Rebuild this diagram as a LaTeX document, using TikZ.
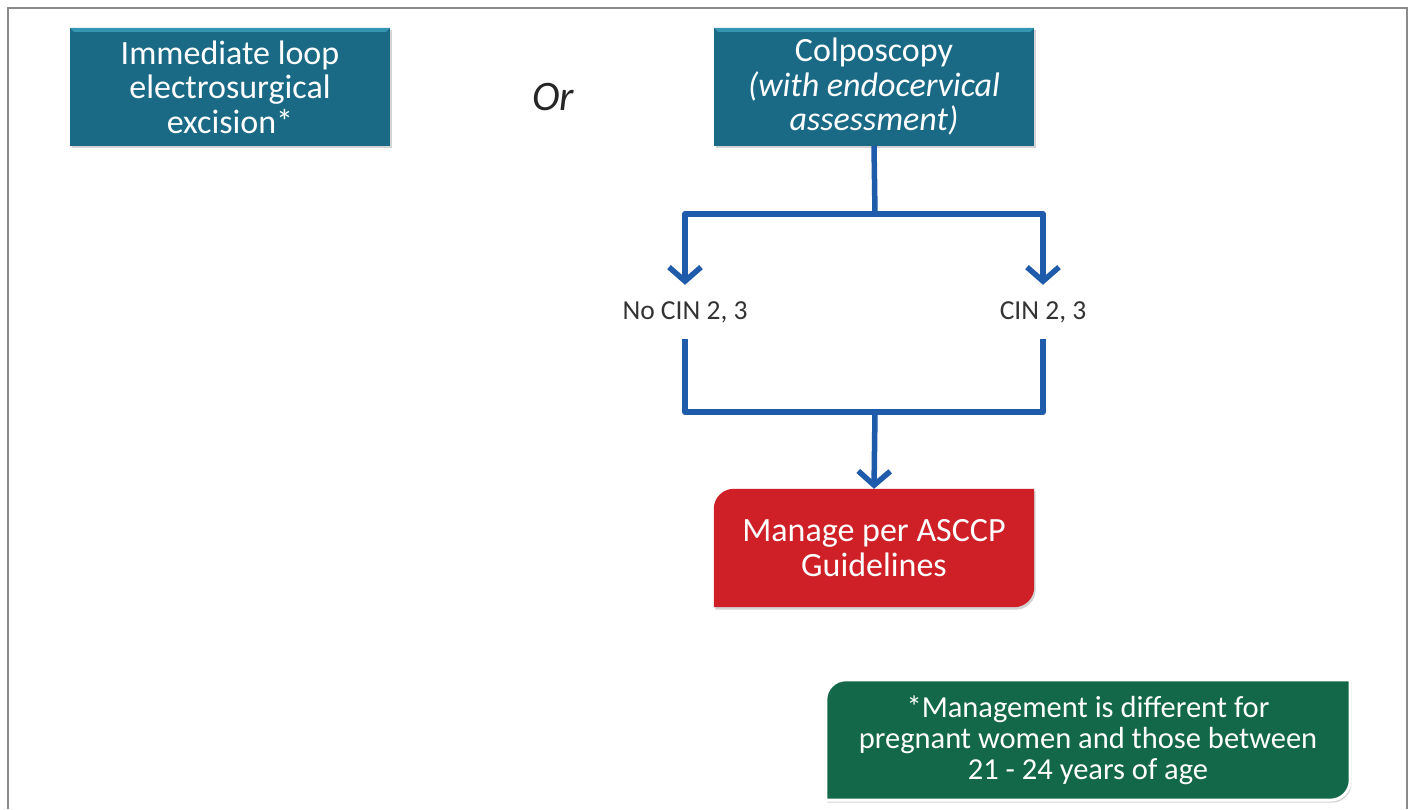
\documentclass[tikz,border=0pt]{standalone}
\usepackage{fontspec}
\setmainfont{Carlito}
\usetikzlibrary{arrows.meta,shadows,backgrounds}
\definecolor{tealbox}{HTML}{1A6A86}
\definecolor{tealedge}{HTML}{3596B2}
\definecolor{redbox}{HTML}{CF2027}
\definecolor{greenbox}{HTML}{136849}
\definecolor{flowblue}{HTML}{1E5BAA}
\definecolor{framegray}{HTML}{8A8A8A}
\definecolor{labelgray}{HTML}{333333}
\tikzset{
  stepbox/.style={fill=tealbox, text=white, align=center, minimum width=320pt,
    minimum height=118pt, inner sep=0pt, font=\fontsize{34}{34.5}\selectfont,
    drop shadow={opacity=0.35, shadow xshift=1.5pt, shadow yshift=-2.5pt}},
  outbox/.style={text=white, align=center, inner sep=0pt,
    font=\fontsize{34}{35}\selectfont},
  branchlabel/.style={text=labelgray, inner sep=0pt, minimum height=54pt,
    font=\fontsize{27.5}{30}\selectfont},
  flow/.style={draw=flowblue, line width=5.5pt, line join=round},
  flowarrow/.style={flow, -{Straight Barb[length=14pt, width=32pt, line width=5.5pt]}},
}
\begin{document}
\begin{tikzpicture}[x=1pt, y=1pt]
  \useasboundingbox (0,0) rectangle (1412,809);
  % page frame (open at the bottom)
  \draw[framegray, line width=2pt] (8,0) -- (8,801) -- (1407,801) -- (1407,0);

  % top-level choices
  \node[stepbox] (leep) at (230,722) {Immediate loop\\electrosurgical\\excision*};
  \node[text=black!85, font=\fontsize{42}{44}\selectfont\itshape] (or) at (553,712) {Or};
  \node[stepbox] (colp) at (874,722) {Colposcopy\\\textit{(with endocervical}\\\textit{assessment)}};
  % bevel highlight along the top edge of the teal boxes
  \foreach \b in {leep,colp}{
    \fill[tealedge] (\b.north west) -- (\b.north east) -- ([xshift=-4pt,yshift=-4pt]\b.north east)
      -- ([xshift=4pt,yshift=-4pt]\b.north west) -- cycle;
  }

  % colposcopy outcomes
  \coordinate (split) at (875,595);
  \node[branchlabel] (nocin) at (685,497) {No CIN 2, 3};
  \node[branchlabel] (cin) at (1043,497) {CIN 2, 3};
  \coordinate (join) at (875,397);

  % management box (rounded on the diagonal corners)
  \node[outbox, minimum width=320pt, minimum height=118pt] (manage) at (874,261)
    {Manage per ASCCP\\Guidelines};
  % footnote box
  \node[outbox, minimum width=524pt, minimum height=120pt,
    font=\fontsize{30.5}{31}\selectfont] (note) at (1088,69)
    {*Management is different for\\pregnant women and those between\\21 - 24 years of age};

  \begin{scope}[on background layer]
    \fill[redbox, drop shadow={opacity=0.35, shadow xshift=1.5pt, shadow yshift=-2.5pt}]
      (manage.south west) -- ([yshift=-20pt]manage.north west)
      arc[start angle=180, end angle=90, radius=20pt]
      -- (manage.north east) -- ([yshift=20pt]manage.south east)
      arc[start angle=0, end angle=-90, radius=20pt] -- cycle;
    \filldraw[fill=greenbox, draw=white, line width=3pt,
      drop shadow={opacity=0.35, shadow xshift=1.5pt, shadow yshift=-2.5pt}]
      (note.south west) -- ([yshift=-20pt]note.north west)
      arc[start angle=180, end angle=90, radius=20pt]
      -- (note.north east) -- ([yshift=20pt]note.south east)
      arc[start angle=0, end angle=-90, radius=20pt] -- cycle;
  \end{scope}

  % connectors
  \draw[flow] (colp.south) -- (split);
  \draw[flowarrow] (split) -| (nocin.north);
  \draw[flowarrow] (split) -| (cin.north);
  \draw[flow] (nocin.south) |- (join) -| (cin.south);
  \draw[flowarrow] (join) -- (manage.north);
\end{tikzpicture}
\end{document}
